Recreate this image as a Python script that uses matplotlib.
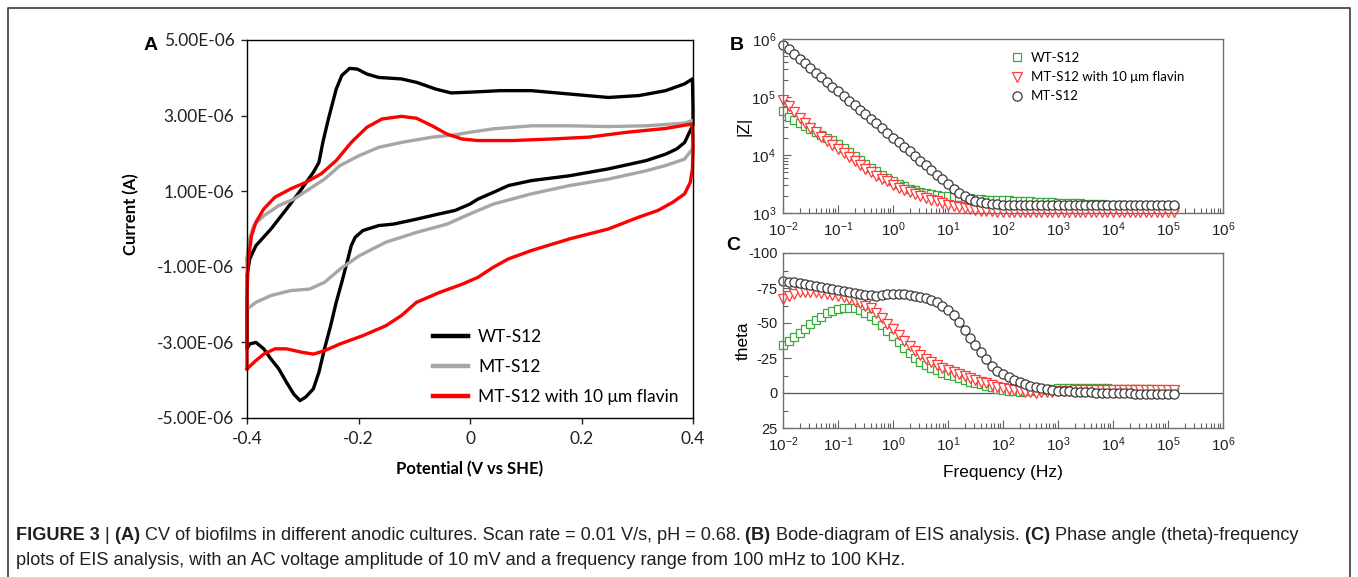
import numpy as np
import matplotlib.pyplot as plt
from matplotlib import font_manager
from matplotlib.lines import Line2D
from matplotlib.ticker import FixedLocator, FixedFormatter, LogLocator, NullFormatter, MultipleLocator

W, H = 1358, 577

# ---------------- panel A : cyclic voltammograms (V, uA) ----------------
wt_v = [-0.400, -0.395, -0.384, -0.357, -0.329, -0.302, -0.281, -0.271, -0.264, -0.254,
        -0.240, -0.230, -0.216, -0.202, -0.185, -0.164, -0.123, -0.096, -0.061, -0.034,
        0.000, 0.055, 0.110, 0.179, 0.248, 0.303, 0.351, 0.385, 0.399, 0.400,
        0.400, 0.395, 0.385, 0.371, 0.351, 0.316, 0.248, 0.179, 0.110, 0.069,
        0.042, 0.014, 0.000, -0.027, -0.055, -0.096, -0.137, -0.164, -0.192, -0.206,
        -0.213, -0.219, -0.230, -0.240, -0.250, -0.261, -0.271, -0.281, -0.295, -0.305,
        -0.316, -0.329, -0.343, -0.357, -0.370, -0.384, -0.395, -0.400, -0.400]
wt_i = [-1.23, -0.79, -0.44, 0.00, 0.53, 1.06, 1.50, 1.76, 2.29, 2.91,
        3.70, 4.06, 4.25, 4.23, 4.10, 4.01, 3.97, 3.88, 3.70, 3.60,
        3.62, 3.66, 3.66, 3.57, 3.48, 3.53, 3.66, 3.84, 3.97, 3.20,
        2.75, 2.60, 2.29, 2.12, 1.98, 1.81, 1.59, 1.41, 1.28, 1.15,
        0.97, 0.79, 0.66, 0.49, 0.40, 0.26, 0.13, 0.09, -0.04, -0.22,
        -0.44, -0.79, -1.41, -1.94, -2.56, -3.17, -3.79, -4.23, -4.45, -4.54,
        -4.37, -4.06, -3.70, -3.44, -3.17, -3.00, -3.04, -3.17, -1.23]

mt_v = [-0.400, -0.397, -0.388, -0.370, -0.343, -0.316, -0.288, -0.261, -0.233, -0.199,
        -0.164, -0.123, -0.068, -0.027, 0.000, 0.042, 0.110, 0.179, 0.248, 0.316,
        0.385, 0.399, 0.400,
        0.399, 0.385, 0.351, 0.316, 0.248, 0.179, 0.110, 0.042, 0.000, -0.041,
        -0.096, -0.151, -0.199, -0.233, -0.261, -0.288, -0.322, -0.357, -0.384, -0.400, -0.400]
mt_i = [-0.79, -0.35, 0.09, 0.35, 0.62, 0.79, 1.06, 1.32, 1.68, 1.94,
        2.16, 2.29, 2.43, 2.49, 2.56, 2.65, 2.73, 2.73, 2.71, 2.73,
        2.80, 2.87, 2.40,
        2.12, 1.85, 1.68, 1.54, 1.32, 1.15, 0.93, 0.66, 0.40, 0.13,
        -0.09, -0.35, -0.71, -1.06, -1.41, -1.59, -1.63, -1.76, -1.94, -2.12, -0.79]

fl_v = [-0.400, -0.400, -0.398, -0.392, -0.384, -0.370, -0.350, -0.322, -0.295, -0.267,
        -0.240, -0.213, -0.185, -0.158, -0.123, -0.096, -0.068, -0.041, -0.014, 0.014,
        0.076, 0.145, 0.213, 0.282, 0.351, 0.399, 0.400,
        0.399, 0.395, 0.385, 0.364, 0.337, 0.302, 0.248, 0.179, 0.110, 0.069,
        0.042, 0.014, -0.014, -0.055, -0.096, -0.123, -0.151, -0.192, -0.233, -0.261,
        -0.281, -0.302, -0.329, -0.350, -0.370, -0.384, -0.400]
fl_i = [-3.70, -1.76, -0.88, -0.18, 0.18, 0.53, 0.84, 1.06, 1.23, 1.46,
        1.81, 2.29, 2.69, 2.91, 2.98, 2.93, 2.73, 2.51, 2.38, 2.34,
        2.34, 2.38, 2.43, 2.56, 2.66, 2.78, 2.20,
        1.59, 1.23, 0.93, 0.71, 0.49, 0.31, 0.00, -0.26, -0.57, -0.79,
        -1.01, -1.28, -1.46, -1.68, -1.94, -2.29, -2.56, -2.82, -3.04, -3.22,
        -3.31, -3.26, -3.17, -3.17, -3.31, -3.48, -3.70]

cv_labels = ['WT-S12', 'MT-S12', 'MT-S12 with 10 \u03bcm flavin']
cv_colors = ['#000000', '#a6a6a6', '#ff0000']
a_yticks = [-5e-6, -3e-6, -1e-6, 1e-6, 3e-6, 5e-6]
a_yticklabels = ['-5.00E-06', '-3.00E-06', '-1.00E-06', '1.00E-06', '3.00E-06', '5.00E-06']
a_xticks = [-0.4, -0.2, 0.0, 0.2, 0.4]
a_xticklabels = ['-0.4', '-0.2', '0', '0.2', '0.4']

# ---------------- panels B, C : EIS ----------------
steps = [1.00, 1.26, 1.58, 2.00, 2.51, 3.16, 3.98, 5.01, 6.31, 7.94]
freq = [m * 10.0 ** e for e in range(-2, 5) for m in steps] + [1.0e5, 1.26e5]

z_wt = [5.8e4, 4.6e4, 4.0e4, 3.5e4, 3.2e4, 2.8e4, 2.5e4, 2.2e4, 2.0e4, 1.78e4,
        1.55e4, 1.32e4, 1.12e4, 9.5e3, 8.1e3, 7.1e3, 6.0e3, 5.2e3, 4.6e3, 4.0e3,
        3.5e3, 3.2e3, 2.9e3, 2.6e3, 2.45e3, 2.3e3, 2.2e3, 2.1e3, 2.04e3, 2.0e3,
        1.95e3, 1.9e3, 1.86e3, 1.82e3, 1.78e3, 1.74e3, 1.72e3, 1.70e3, 1.68e3, 1.66e3,
        1.66e3, 1.65e3, 1.64e3, 1.63e3, 1.62e3, 1.59e3, 1.57e3, 1.55e3, 1.54e3, 1.53e3,
        1.51e3, 1.49e3, 1.48e3, 1.47e3, 1.46e3, 1.45e3, 1.43e3, 1.42e3, 1.41e3, 1.40e3,
        1.38e3, 1.36e3, 1.35e3, 1.34e3, 1.33e3, 1.32e3, 1.30e3, 1.29e3, 1.28e3, 1.27e3,
        1.26e3, 1.26e3]
z_fl = [8.9e4, 6.9e4, 5.5e4, 4.4e4, 3.5e4, 2.95e4, 2.45e4, 2.05e4, 1.74e4, 1.48e4,
        1.26e4, 1.07e4, 9.1e3, 7.8e3, 6.6e3, 5.8e3, 5.0e3, 4.4e3, 3.9e3, 3.5e3,
        3.1e3, 2.75e3, 2.5e3, 2.3e3, 2.1e3, 1.95e3, 1.82e3, 1.70e3, 1.58e3, 1.48e3,
        1.38e3, 1.32e3, 1.26e3, 1.20e3, 1.15e3, 1.12e3, 1.10e3, 1.07e3, 1.07e3, 1.05e3,
        1.05e3, 1.05e3, 1.05e3, 1.05e3, 1.05e3, 1.05e3, 1.05e3, 1.05e3, 1.05e3, 1.05e3,
        1.05e3, 1.05e3, 1.05e3, 1.05e3, 1.05e3, 1.05e3, 1.05e3, 1.05e3, 1.05e3, 1.05e3,
        1.05e3, 1.05e3, 1.05e3, 1.05e3, 1.05e3, 1.05e3, 1.05e3, 1.05e3, 1.05e3, 1.05e3,
        1.05e3, 1.05e3]
z_mt = [7.9e5, 6.6e5, 5.5e5, 4.6e5, 3.8e5, 3.2e5, 2.6e5, 2.2e5, 1.8e5, 1.5e5,
        1.26e5, 1.05e5, 8.7e4, 7.2e4, 6.0e4, 5.0e4, 4.2e4, 3.5e4, 2.9e4, 2.4e4,
        2.0e4, 1.66e4, 1.38e4, 1.15e4, 9.5e3, 7.9e3, 6.6e3, 5.5e3, 4.6e3, 3.8e3,
        3.2e3, 2.6e3, 2.24e3, 1.95e3, 1.74e3, 1.62e3, 1.55e3, 1.48e3, 1.45e3, 1.41e3,
        1.39e3, 1.38e3, 1.38e3, 1.38e3, 1.38e3, 1.38e3, 1.38e3, 1.38e3, 1.38e3, 1.38e3,
        1.38e3, 1.37e3, 1.37e3, 1.37e3, 1.37e3, 1.37e3, 1.37e3, 1.37e3, 1.37e3, 1.37e3,
        1.37e3, 1.36e3, 1.36e3, 1.36e3, 1.36e3, 1.36e3, 1.36e3, 1.36e3, 1.36e3, 1.36e3,
        1.36e3, 1.36e3]

th_wt = [-34.5, -37, -40, -43, -46, -49, -52, -54.5, -57, -58.8,
         -60, -60.8, -61, -60.5, -59.3, -57.5, -55, -52, -48.5, -44.5,
         -40.5, -36.5, -32.5, -28.8, -25, -22.5, -20, -18, -16.3, -14.6,
         -13.2, -11.8, -10.5, -9.3, -8.2, -7.2, -6.2, -5.2, -4.2, -3.2,
         -2.3, -1.6, -1.1, -1.0, -1.2, -1.6, -2.0, -2.5, -2.9, -3.2,
         -3.4, -3.5, -3.5, -3.5, -3.5, -3.5, -3.4, -3.4, -3.3, -3.3,
         -3.2, -3.1, -3.0, -2.9, -2.8, -2.8, -2.7, -2.6, -2.5, -2.4,
         -2.3, -2.3]
th_fl = [-67.5, -69.5, -71, -72, -72.5, -72.5, -72.2, -71.7, -71, -70.2,
         -69.3, -68.3, -67.2, -66, -64.5, -62.5, -60.5, -57.5, -53.5, -49.5,
         -45.5, -41.5, -37.5, -33.5, -30, -27, -24.3, -22, -20, -18.2,
         -16.5, -15, -13.5, -12, -10.6, -9.3, -8, -6.8, -5.7, -4.6,
         -3.6, -2.7, -1.9, -1.2, -0.7, -0.4, -0.3, -0.4, -0.6, -0.9,
         -1.2, -1.4, -1.6, -1.8, -1.8, -1.8, -1.8, -1.8, -1.8, -1.8,
         -2.0, -2.0, -2.0, -2.0, -2.0, -2.0, -2.0, -2.0, -2.0, -2.0,
         -1.9, -1.8]
th_mt = [-80, -79.5, -79, -78.5, -78, -77.3, -76.6, -75.9, -75.2, -74.5,
         -73.8, -73, -72.2, -71.5, -70.8, -70.2, -69.8, -69.6, -69.8, -70.4,
         -70.8, -70.8, -70.6, -70.2, -69.6, -68.8, -67.6, -66.3, -65, -62.5,
         -59.5, -55.5, -51, -45, -39, -34, -29, -24, -19.5, -16,
         -13.5, -11.2, -9.3, -7.6, -6.2, -5.0, -4.0, -3.3, -2.7, -2.2,
         -1.7, -1.4, -1.2, -1.0, -0.8, -0.6, -0.5, -0.3, -0.2, -0.1,
         0.0, 0.1, 0.2, 0.3, 0.4, 0.5, 0.5, 0.6, 0.6, 0.7,
         0.8, 1.0]

eis_labels = ['WT-S12', 'MT-S12 with 10 \u03bcm flavin', 'MT-S12']
eis_colors = ['#3aaa3a', '#ff3b3b', '#3a3a3a']
eis_markers = ['s', 'v', 'o']
eis_sizes = [6.2, 7.0, 6.6]

cap_line1 = [("FIGURE 3", True), (" |", False), (" (A)", True),
             (" CV of biofilms in different anodic cultures. Scan rate = 0.01 V/s, pH = 0.68.", False),
             (" (B)", True), (" Bode-diagram of EIS analysis.", False), (" (C)", True),
             (" Phase angle (theta)-frequency", False)]
cap_line2 = [("plots of EIS analysis, with an AC voltage amplitude of 10 mV and a frequency range from 100 mHz to 100 KHz.", False)]

# ---------------- fonts ----------------
names = {f.name for f in font_manager.fontManager.ttflist}
cal = 'Lato' if 'Lato' in names else 'DejaVu Sans'
ari = 'Liberation Sans' if 'Liberation Sans' in names else 'DejaVu Sans'
cap_font = 'Liberation Sans Narrow' if 'Liberation Sans Narrow' in names else ari
plt.rcParams['mathtext.fontset'] = 'custom'
plt.rcParams['mathtext.rm'] = ari
plt.rcParams['mathtext.it'] = ari
plt.rcParams['mathtext.default'] = 'regular'
plt.rcParams['axes.unicode_minus'] = False


def px_axes(l, t, r, b):
    return [l / W, 1 - b / H, (r - l) / W, (b - t) / H]


fig = plt.figure(figsize=(W / 100, H / 100), dpi=100)

# ---------------- panel A ----------------
axA = fig.add_axes(px_axes(247, 40, 693, 418))
for v, i, c, lab in zip([wt_v, mt_v, fl_v], [wt_i, mt_i, fl_i], cv_colors, cv_labels):
    axA.plot(v, np.array(i) * 1e-6, color=c, lw=2.4, label=lab, clip_on=False, solid_joinstyle='round')
axA.set_xlim(-0.4, 0.4)
axA.set_ylim(-5e-6, 5e-6)
axA.yaxis.set_major_locator(FixedLocator(a_yticks))
axA.yaxis.set_major_formatter(FixedFormatter(a_yticklabels))
axA.xaxis.set_major_locator(FixedLocator(a_xticks))
axA.xaxis.set_major_formatter(FixedFormatter(a_xticklabels))
axA.tick_params(direction='out', length=4, width=1, labelsize=12.5, pad=5, colors='#222222')
for t in axA.get_xticklabels() + axA.get_yticklabels():
    t.set_family(cal)
for s in axA.spines.values():
    s.set_linewidth(1.0)
axA.set_ylabel('Current (A)', fontsize=12, fontweight='bold', family=cal)
axA.set_xlabel('Potential (V vs SHE)', fontsize=12, fontweight='bold', family=cal)
axA.yaxis.set_label_coords((139 - 247) / 446, 0.54)
axA.xaxis.set_label_coords(0.5, (418 - 461) / 378)
legA = axA.legend(loc='upper left', bbox_to_anchor=((433 - 247) / 446, (418 - 329) / 378),
                  frameon=False, prop={'family': cal, 'size': 12.5}, handlelength=2.0,
                  handletextpad=0.6, labelspacing=0.8, borderpad=0, borderaxespad=0)
for h in legA.get_lines():
    h.set_linewidth(3.2)

# ---------------- panels B and C ----------------
axB = fig.add_axes(px_axes(783, 39, 1223, 213))
axC = fig.add_axes(px_axes(783, 253, 1223, 428))

for z, th, c, m, ms, lab in zip([z_wt, z_fl, z_mt], [th_wt, th_fl, th_mt], eis_colors,
                                eis_markers, eis_sizes, eis_labels):
    axB.plot(freq, z, ls='none', marker=m, ms=ms, mfc='white', mec=c, mew=0.9, label=lab, clip_on=False)
    axC.plot(freq, th, ls='none', marker=m, ms=ms, mfc='white', mec=c, mew=0.9, clip_on=False)

axC.axhline(0, color='#555555', lw=0.9, zorder=0)

for ax in (axB, axC):
    ax.set_xscale('log')
    ax.set_xlim(1e-2, 1e6)
    ax.xaxis.set_major_locator(LogLocator(base=10, numticks=20))
    ax.xaxis.set_minor_locator(LogLocator(base=10, subs=np.arange(2, 10), numticks=20))
    ax.xaxis.set_minor_formatter(NullFormatter())
    for s in ax.spines.values():
        s.set_color('#707070')
        s.set_linewidth(1.0)
    ax.tick_params(which='major', direction='in', length=6, width=0.8, color='#606060',
                   labelsize=11, pad=5, labelcolor='#222222')
    ax.tick_params(which='minor', direction='in', length=3.5, width=0.8, color='#606060')
    ax.tick_params(top=False, right=False, which='both')
    for t in ax.get_xticklabels() + ax.get_yticklabels():
        t.set_family(ari)

axB.set_yscale('log')
axB.set_ylim(1e3, 1e6)
axB.yaxis.set_major_locator(LogLocator(base=10, numticks=10))
axB.yaxis.set_minor_locator(LogLocator(base=10, subs=np.arange(2, 10), numticks=10))
axB.yaxis.set_minor_formatter(NullFormatter())
axB.set_ylabel('|Z|', fontsize=12.5, family=ari)
axB.yaxis.set_label_coords((752 - 783) / 440, 0.5)
axB.legend(loc='upper left', bbox_to_anchor=((1010 - 783) / 440, (213 - 52) / 174), frameon=False,
           prop={'family': cal, 'size': 9.5}, handlelength=1.0, handletextpad=0.6,
           labelspacing=0.54, borderpad=0, borderaxespad=0, markerscale=1.0)

axC.set_ylim(25, -100)
axC.yaxis.set_major_locator(MultipleLocator(25))
axC.yaxis.set_minor_locator(MultipleLocator(12.5))
axC.tick_params(axis='y', which='major', labelsize=10.5, pad=4)
axC.set_ylabel('theta', fontsize=12.5, family=ari)
axC.yaxis.set_label_coords((751 - 783) / 440, 0.5)
axC.set_xlabel('Frequency (Hz)', fontsize=12.5, family=ari)
axC.xaxis.set_label_coords(0.5, (428 - 465) / 175)
for t in axC.get_yticklabels():
    t.set_family(ari)

# ---------------- panel letters ----------------
for lab, x, y in [('A', 151, 45), ('B', 737, 45), ('C', 733, 245)]:
    fig.text(x / W, 1 - y / H, lab, fontsize=14, fontweight='bold', family=ari,
             ha='center', va='center')

# ---------------- frame ----------------
fig.add_artist(Line2D([8 / W, 8 / W, 1350 / W, 1350 / W], [0, 1 - 8 / H, 1 - 8 / H, 0],
                      color='#4a4a4a', lw=1.3, transform=fig.transFigure))

# ---------------- caption ----------------
renderer = fig.canvas.get_renderer()


def draw_segments(segs, x_px, y_px, size):
    x = x_px
    for txt, bold in segs:
        t = fig.text(x / W, 1 - y_px / H, txt, fontsize=size, family=cap_font,
                     fontweight='bold' if bold else 'normal', va='baseline', ha='left',
                     color='#231f20')
        x += t.get_window_extent(renderer=renderer).width
    return x


probe = fig.text(0, 0, ''.join(s for s, _ in cap_line1), fontsize=10, family=cap_font)
w10 = probe.get_window_extent(renderer=renderer).width
probe.remove()
cap_size = 10 * (1305 - 16) / w10
draw_segments(cap_line1, 16, 540, cap_size)
draw_segments(cap_line2, 16, 565, cap_size)

fig.savefig('out.png', dpi=100)
